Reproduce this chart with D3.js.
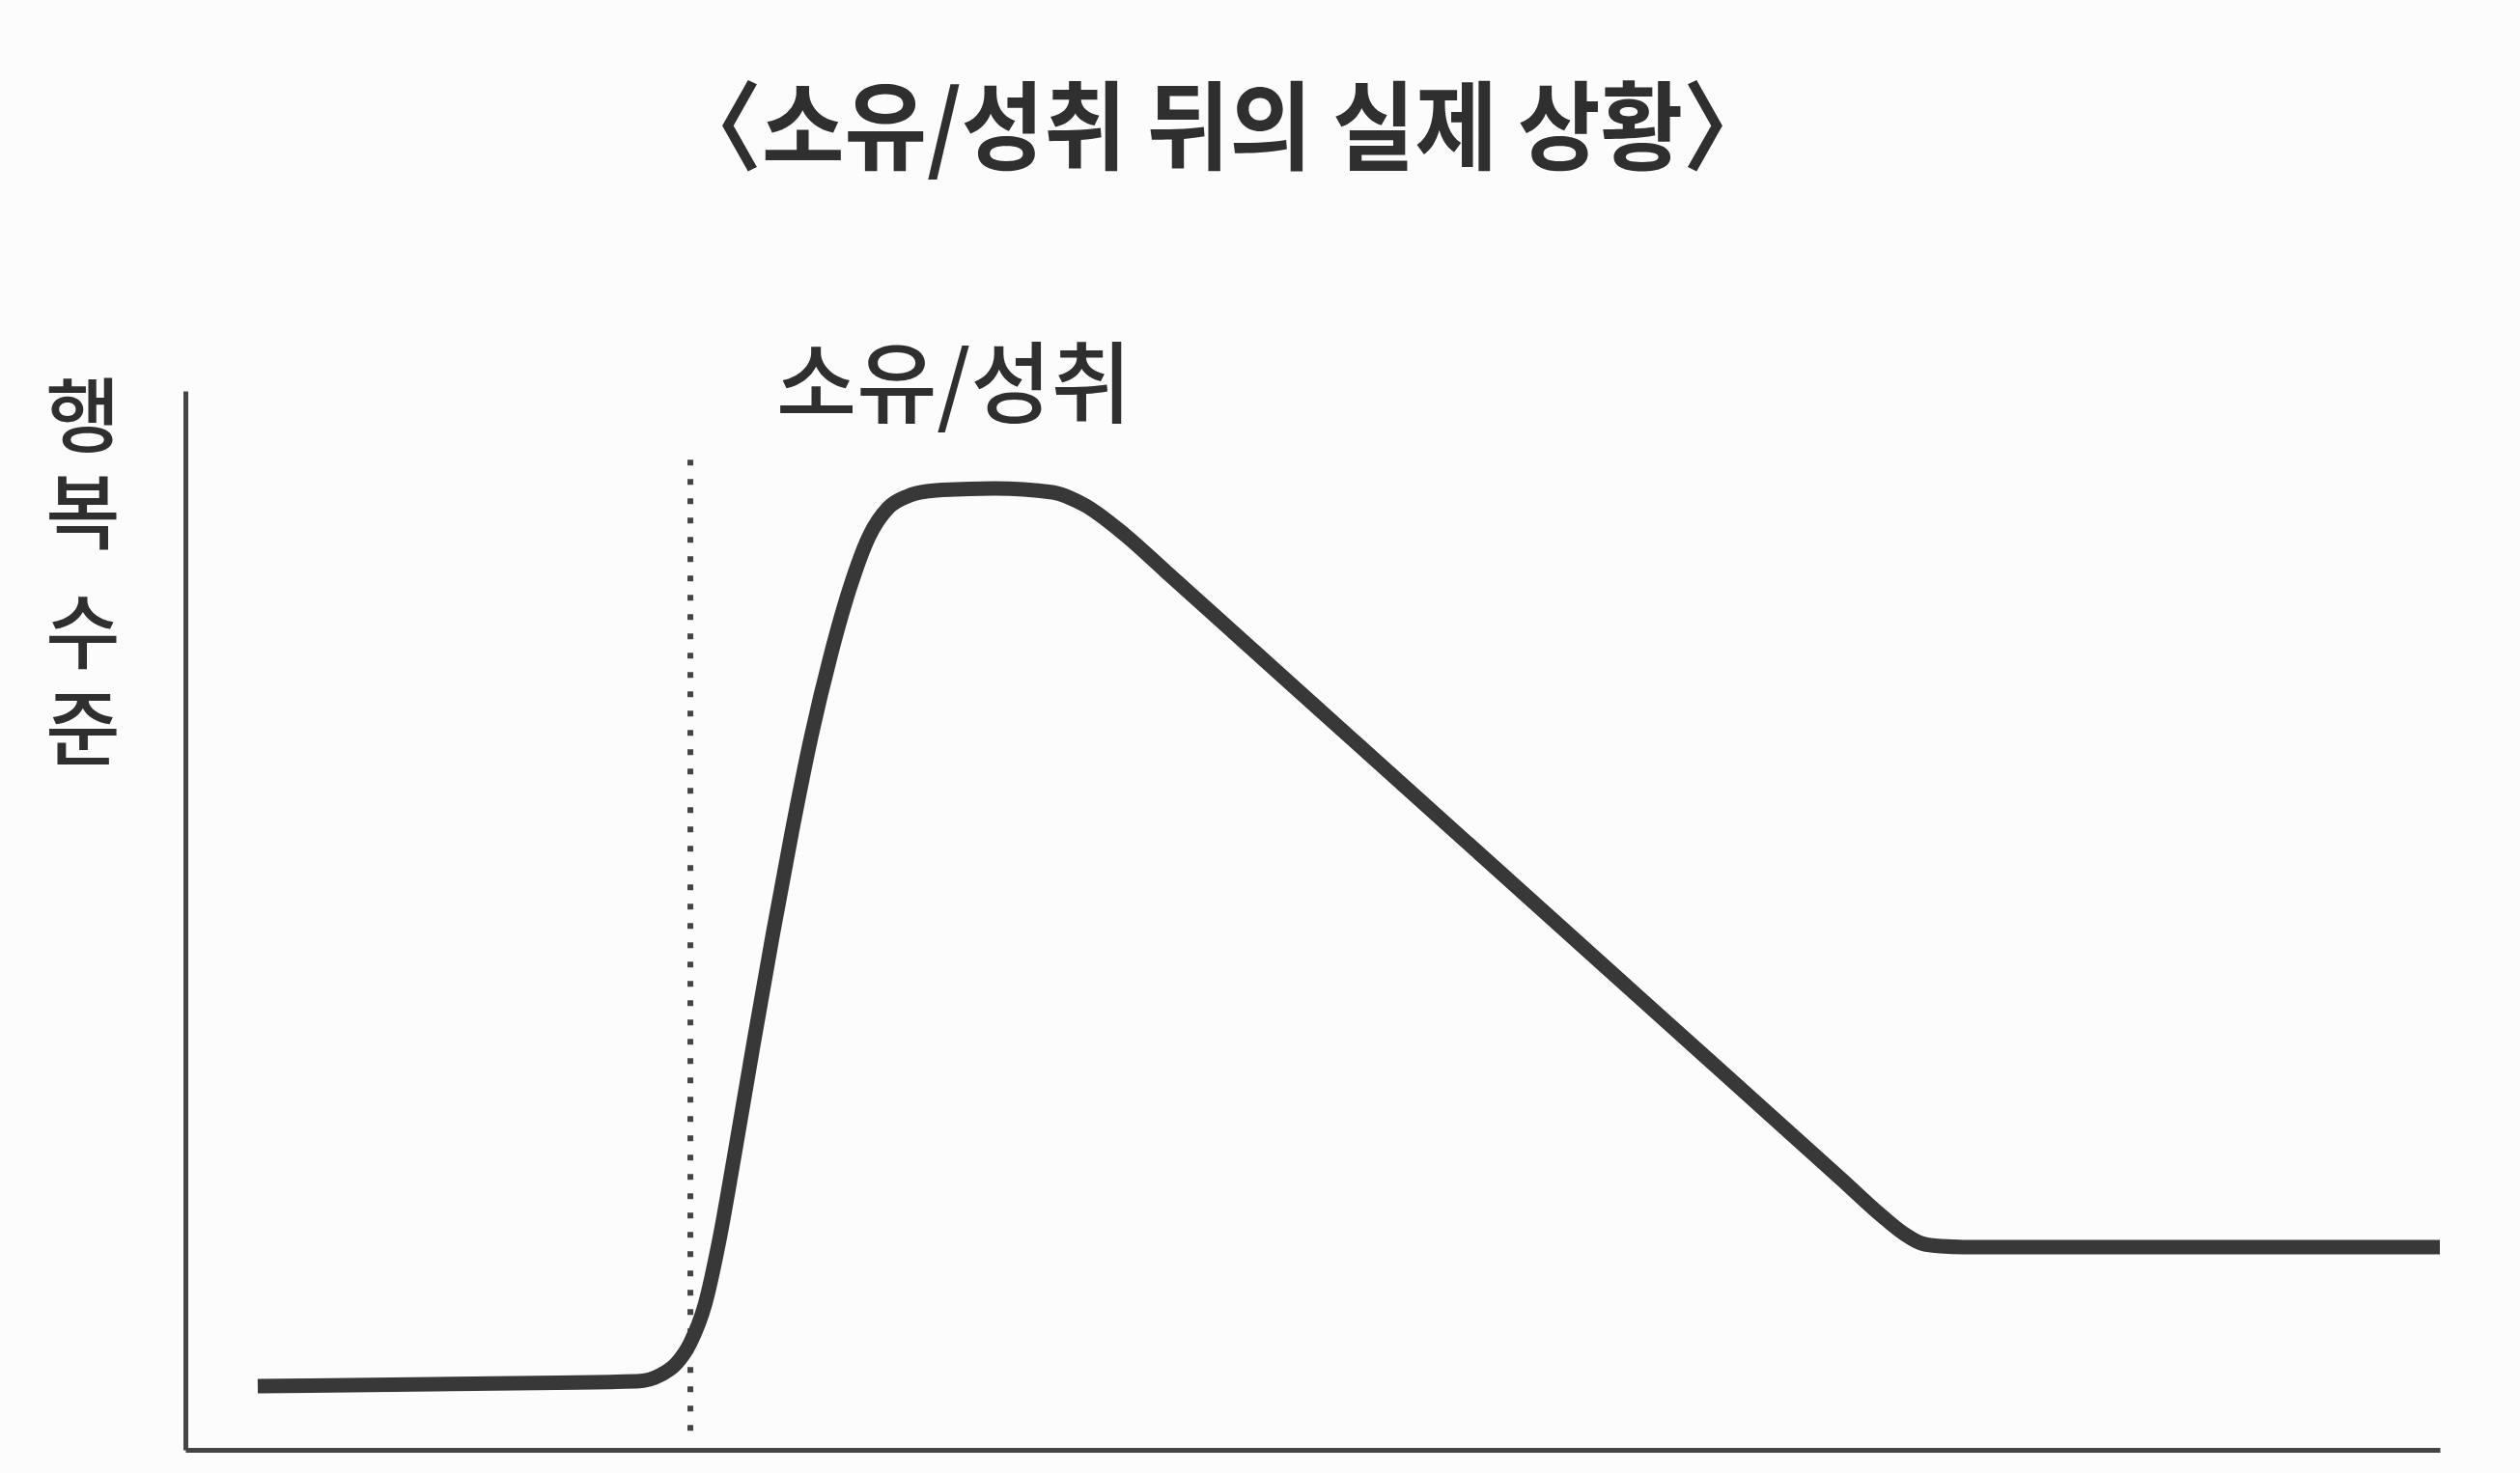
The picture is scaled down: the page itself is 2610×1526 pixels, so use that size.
<!DOCTYPE html>
<html>
<head>
<meta charset="utf-8">
<script src="https://cdn.jsdelivr.net/npm/d3@7"></script>
<style>
  html, body { margin: 0; padding: 0; background: #fcfcfc; }
  svg { display: block; }
  text { font-family: "Noto Sans CJK KR", "Noto Sans", sans-serif; fill: #2f2f2f; }
</style>
</head>
<body>
<svg id="chart"></svg>
<script>
(function() {

    // time (0-100) along the x axis
    const times = [3.21, 11.05, 20.04, 21.11, 21.76, 22.40, 23.04, 23.68, 24.33, 25.18, 26.04, 26.90, 27.75, 28.61, 29.46, 30.32, 31.18, 32.03, 32.89, 34.18, 35.89, 38.46, 39.87, 41.67, 43.50, 51.74, 64.58, 73.50, 75.29, 76.23, 77.00, 77.86, 79.14, 100];
    // happiness level (0-100)
    const happiness = [6.02, 6.20, 6.47, 7.11, 8.11, 10.12, 13.67, 19.78, 27.53, 38.10, 48.50, 58.34, 67.27, 74.93, 81.31, 86.24, 88.97, 90.06, 90.52, 90.70, 90.79, 90.43, 89.24, 86.42, 82.92, 67.14, 42.55, 25.47, 22.01, 20.42, 19.51, 19.23, 19.14, 19.14];

    const title = '〈소유/성취 뒤의 실제 상황〉';
    const eventLabel = '소유/성취';
    const eventTime = 22.4;
    const eventRange = [1.8, 94.5];
    const yLabelWords = ['행복', '수준'];

    const dataset = times.map((t, i) => ({ t, v: happiness[i] }));

    const w = 2610;
    const h = 1526;
    const ink = '#383838';

    const svg = d3.select('#chart')
        .attr('width', w)
        .attr('height', h);

    // Scales
    const scaleX = d3.scaleLinear().domain([0, 100]).range([192, 2527]);
    const scaleY = d3.scaleLinear().domain([0, 100]).range([1502, 405]);

    // Axes (plain lines, no ticks)
    const xAxis = d3.axisBottom(scaleX).tickValues([]).tickSizeOuter(0);
    const yAxis = d3.axisLeft(scaleY).tickValues([]).tickSizeOuter(0);

    svg.append('g')
        .attr('transform', `translate(0, ${scaleY(0)})`)
        .call(xAxis)
        .call(g => g.select('.domain').attr('stroke', '#444').attr('stroke-width', 5));

    svg.append('g')
        .attr('transform', `translate(${scaleX(0)}, 0)`)
        .call(yAxis)
        .call(g => g.select('.domain').attr('stroke', '#444').attr('stroke-width', 5));

    // Dotted marker at the moment of ownership / achievement
    svg.append('line')
        .attr('x1', scaleX(eventTime))
        .attr('x2', scaleX(eventTime))
        .attr('y1', scaleY(eventRange[0]))
        .attr('y2', scaleY(eventRange[1]))
        .attr('stroke', '#444')
        .attr('stroke-width', 6)
        .attr('stroke-dasharray', '6 14');

    // Happiness curve
    const line = d3.line()
        .x(d => scaleX(d.t))
        .y(d => scaleY(d.v))
        .curve(d3.curveMonotoneX);

    svg.append('path')
        .datum(dataset)
        .attr('d', line)
        .attr('fill', 'none')
        .attr('stroke', ink)
        .attr('stroke-width', 15)
        .attr('stroke-linecap', 'butt')
        .attr('stroke-linejoin', 'round');

    // Title
    svg.append('text')
        .attr('x', 1266)
        .attr('y', 168)
        .attr('text-anchor', 'middle')
        .attr('font-size', 100)
        .attr('font-weight', 700)
        .attr('textLength', 1140)
        .attr('lengthAdjust', 'spacingAndGlyphs')
        .text(title);

    // Event label
    svg.append('text')
        .attr('x', 988)
        .attr('y', 431)
        .attr('text-anchor', 'middle')
        .attr('font-size', 92)
        .attr('font-weight', 500)
        .attr('textLength', 368)
        .attr('lengthAdjust', 'spacingAndGlyphs')
        .text(eventLabel);

    // Y label, written top to bottom
    const wordTop = [388, 612];
    svg.append('g')
        .selectAll('text')
        .data(yLabelWords)
        .enter()
        .append('text')
        .attr('x', 86)
        .attr('y', (d, i) => wordTop[i])
        .style('writing-mode', 'vertical-rl')
        .style('text-orientation', 'upright')
        .style('letter-spacing', '16px')
        .attr('font-size', 84)
        .attr('font-weight', 500)
        .text(d => d);

})();
</script>
</body>
</html>
